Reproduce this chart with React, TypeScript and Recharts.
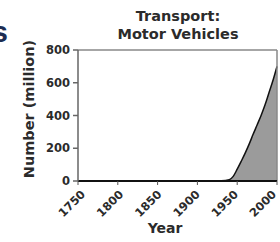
import React from 'react';
import { AreaChart, Area, XAxis, YAxis, ReferenceLine } from 'recharts';

// Motor vehicles in use worldwide (million)
const years = [1750, 1800, 1850, 1900, 1930, 1940, 1945, 1950, 1955, 1960, 1965, 1970, 1975, 1980, 1985, 1990, 1995, 2000];
const vehicles = [0, 0, 0, 0, 2, 8, 28, 72, 120, 170, 225, 285, 342, 400, 465, 540, 615, 700];

const xTicks = [1750, 1800, 1850, 1900, 1950, 2000];
const yTicks = [0, 200, 400, 600, 800];

const data = years.map((year, i) => ({ year, value: vehicles[i] }));

const font = '"DejaVu Sans", sans-serif';
const textColor = '#2b2b2b';

// labels in the original sit a bit tighter than the ticks, drifting left toward 2000
const RotatedTick = ({ x, y, payload, index }: any) => {
  const ax = x + 8 - index * 1.6;
  const ay = y + 10;
  return (
    <text
      x={ax}
      y={ay}
      transform={`rotate(-45, ${ax}, ${ay})`}
      textAnchor="end"
      fontFamily={font}
      fontWeight="bold"
      fontSize={11.5}
      fill={textColor}
    >
      {payload.value}
    </text>
  );
};

export default function App() {
  return (
    <div style={{ position: 'absolute', left: 0, top: 0, width: 280, height: 242, background: '#fff', overflow: 'hidden' }}>
      {/* cut-off word from the neighbouring panel */}
      <div
        style={{
          position: 'absolute',
          right: 272,
          top: 15,
          fontFamily: '"Liberation Sans", sans-serif',
          fontWeight: 'bold',
          fontSize: 30,
          color: '#1d2d52',
          lineHeight: '34px'
        }}
      >
        s
      </div>

      {/* Title */}
      <div
        style={{
          position: 'absolute',
          left: 98,
          width: 160,
          top: 7,
          textAlign: 'center',
          fontFamily: font,
          fontWeight: 'bold',
          fontSize: 14.5,
          lineHeight: '18px',
          color: textColor
        }}
      >
        Transport:
        <br />
        Motor Vehicles
      </div>

      {/* Y axis label */}
      <div
        style={{
          position: 'absolute',
          left: 29,
          top: 109,
          transform: 'translate(-50%, -50%) rotate(-90deg)',
          whiteSpace: 'nowrap',
          fontFamily: font,
          fontWeight: 'bold',
          fontSize: 14.5,
          color: textColor
        }}
      >
        Number (million)
      </div>

      {/* X axis label */}
      <div
        style={{
          position: 'absolute',
          left: 165,
          top: 220,
          transform: 'translateX(-50%)',
          fontFamily: font,
          fontWeight: 'bold',
          fontSize: 14,
          color: textColor
        }}
      >
        Year
      </div>

      <div style={{ position: 'absolute', left: 0, top: 0 }}>
        <AreaChart width={280} height={242} data={data} margin={{ top: 50, right: 3, left: 0, bottom: 0 }}>
          <XAxis
            dataKey="year"
            type="number"
            domain={[1750, 2000]}
            ticks={xTicks}
            tick={<RotatedTick />}
            tickSize={4}
            tickMargin={0}
            height={61}
            stroke="#111"
            strokeWidth={2}
            tickLine={{ stroke: '#555', strokeWidth: 1 }}
            interval={0}
          />
          <YAxis
            type="number"
            domain={[0, 800]}
            ticks={yTicks}
            width={78}
            tickSize={5}
            tickMargin={3}
            stroke="#666"
            strokeWidth={1.5}
            tick={{ fontFamily: font, fontWeight: 'bold', fontSize: 11.5, fill: textColor }}
            interval={0}
          />
          <ReferenceLine y={800} stroke="#888" strokeWidth={1.5} />
          <ReferenceLine x={2000} stroke="#888" strokeWidth={1.5} />
          <Area
            type="monotone"
            dataKey="value"
            stroke="#111"
            strokeWidth={1.5}
            fill="#9b9b9b"
            fillOpacity={1}
            isAnimationActive={false}
            dot={false}
            activeDot={false}
          />
        </AreaChart>
      </div>
    </div>
  );
}
